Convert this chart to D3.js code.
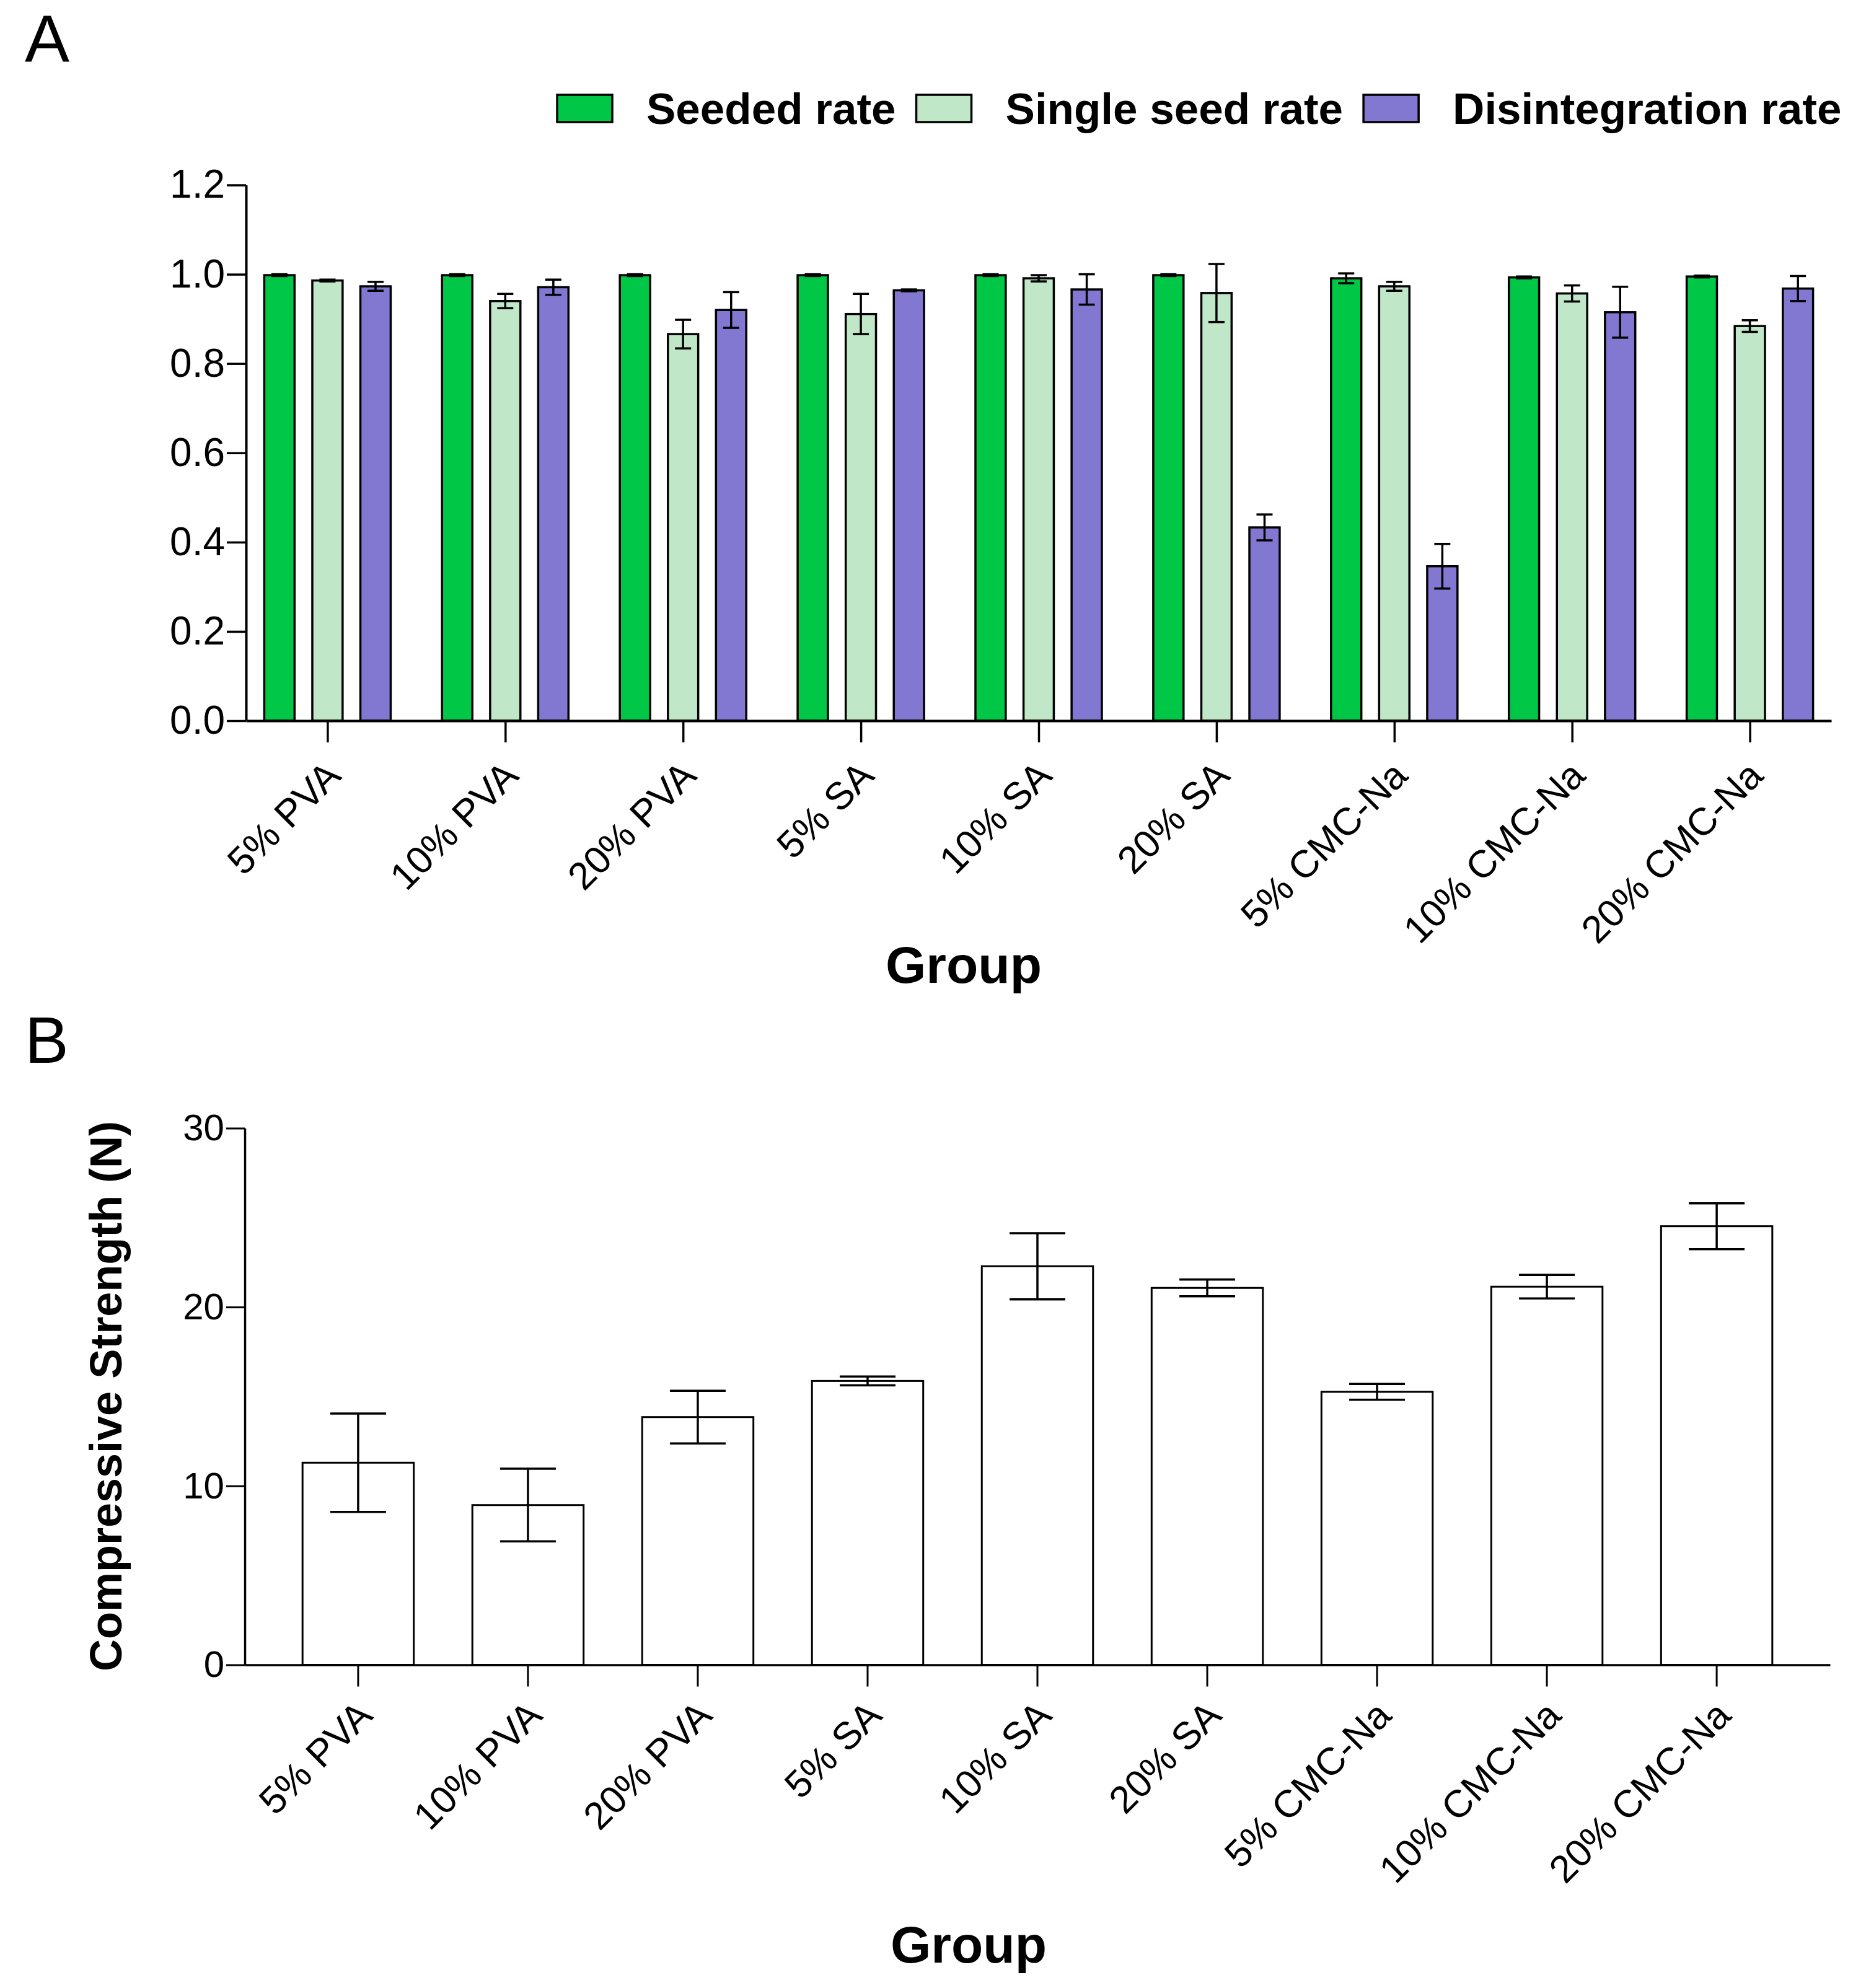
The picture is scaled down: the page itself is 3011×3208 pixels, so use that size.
<!DOCTYPE html>
<meta charset="utf-8">
<script src="https://d3js.org/d3.v7.min.js"></script>
<style>
  body { margin: 0; background: #fff; }
  text { font-family: "Liberation Sans", Arial, sans-serif; fill: #000; }
</style>
<div id="chart"></div>
<script>

// groups on the x axis (same for both panels)
var groups = ["5% PVA", "10% PVA", "20% PVA", "5% SA", "10% SA", "20% SA",
              "5% CMC-Na", "10% CMC-Na", "20% CMC-Na"];

// panel A: three rates per group (mean and error)
var seriesNames = ["Seeded rate", "Single seed rate", "Disintegration rate"];
var seriesColors = ["#00c846", "#c0e8c8", "#8278d2"];
var seededRate = [0.998, 0.998, 0.998, 0.998, 0.998, 0.998, 0.991, 0.993, 0.995];
var seededErr = [0.002, 0.002, 0.002, 0.002, 0.002, 0.002, 0.011, 0.002, 0.002];
var singleSeedRate = [0.986, 0.940, 0.866, 0.911, 0.991, 0.958, 0.973, 0.957, 0.884];
var singleSeedErr = [0.002, 0.016, 0.032, 0.045, 0.007, 0.065, 0.010, 0.018, 0.013];
var disintRate = [0.973, 0.971, 0.920, 0.964, 0.966, 0.433, 0.346, 0.915, 0.968];
var disintErr = [0.010, 0.017, 0.040, 0.002, 0.034, 0.029, 0.050, 0.057, 0.028];
var yTicksA = [0, 0.2, 0.4, 0.6, 0.8, 1.0, 1.2];

// panel B: compressive strength (N)
var strength = [11.3, 8.93, 13.85, 15.87, 22.28, 21.07, 15.26, 21.14, 24.52];
var strengthErr = [2.75, 2.03, 1.47, 0.25, 1.85, 0.47, 0.44, 0.66, 1.28];
var yTicksB = [0, 10, 20, 30];

var W = 3011, H = 3208;
var svg = d3.select("#chart").append("svg")
    .attr("width", W).attr("height", H);
svg.append("rect").attr("width", W).attr("height", H).attr("fill", "#fff");

// ---------- panel A ----------
var rates = [seededRate, singleSeedRate, disintRate];
var errs = [seededErr, singleSeedErr, disintErr];
var dataA = [];
groups.forEach(function(g, i) {
  seriesNames.forEach(function(s, j) {
    dataA.push({group: g, series: s, value: rates[j][i], err: errs[j][i], color: seriesColors[j]});
  });
});

var xA = d3.scalePoint().domain(groups).range([397, 2955]).padding(0.458);
var xA1 = d3.scaleBand().domain(seriesNames).range([-102, 102]).paddingInner(0.37);
var yA = d3.scaleLinear().domain([0, 1.2]).range([1163, 298.5]);

var gA = svg.append("g");

gA.selectAll("rect.bar")
  .data(dataA)
  .enter().append("rect")
    .attr("class", "bar")
    .attr("x", function(d) { return xA(d.group) + xA1(d.series); })
    .attr("width", xA1.bandwidth())
    .attr("y", function(d) { return yA(d.value); })
    .attr("height", function(d) { return yA(0) - yA(d.value); })
    .attr("fill", function(d) { return d.color; })
    .attr("stroke", "#000")
    .attr("stroke-width", 3.5);

// error bars
var capA = 13;
var errA = gA.selectAll("g.err").data(dataA).enter().append("g")
    .attr("class", "err")
    .attr("stroke", "#000").attr("stroke-width", 3.5);
errA.append("line")
    .attr("x1", function(d) { return xA(d.group) + xA1(d.series) + xA1.bandwidth() / 2; })
    .attr("x2", function(d) { return xA(d.group) + xA1(d.series) + xA1.bandwidth() / 2; })
    .attr("y1", function(d) { return yA(d.value + d.err); })
    .attr("y2", function(d) { return yA(d.value - d.err); });
[1, -1].forEach(function(sign) {
  errA.append("line")
    .attr("x1", function(d) { return xA(d.group) + xA1(d.series) + xA1.bandwidth() / 2 - capA; })
    .attr("x2", function(d) { return xA(d.group) + xA1(d.series) + xA1.bandwidth() / 2 + capA; })
    .attr("y1", function(d) { return yA(d.value + sign * d.err); })
    .attr("y2", function(d) { return yA(d.value + sign * d.err); });
});

// axes
var yAxisA = gA.append("g")
    .attr("transform", "translate(397,0)")
    .call(d3.axisLeft(yA).tickValues(yTicksA).tickFormat(d3.format(".1f"))
          .tickSize(31).tickSizeOuter(0).tickPadding(3));
yAxisA.selectAll("text").style("font-size", "64px");

var xAxisA = gA.append("g")
    .attr("transform", "translate(0,1163)")
    .call(d3.axisBottom(xA).tickSize(35).tickSizeOuter(0));
xAxisA.selectAll("text")
    .attr("x", 0).attr("y", 0).attr("dy", 0)
    .attr("transform", "translate(24,92) rotate(-45)")
    .style("text-anchor", "end")
    .style("font-size", "62px");

[yAxisA, xAxisA].forEach(function(ax) {
  ax.select(".domain").attr("stroke-width", 4);
  ax.selectAll(".tick line").attr("stroke-width", 3.5);
});

gA.append("text")
    .attr("x", 1555).attr("y", 1586)
    .attr("text-anchor", "middle")
    .style("font-size", "84px").style("font-weight", "bold")
    .text("Group");

// legend
var legX = 899;
var leg = gA.append("g");
seriesNames.forEach(function(s, j) {
  leg.append("rect")
    .attr("x", legX).attr("y", 153)
    .attr("width", 89).attr("height", 44)
    .attr("fill", seriesColors[j])
    .attr("stroke", "#000").attr("stroke-width", 3.5);
  var t = leg.append("text")
    .attr("x", legX + 144).attr("y", 200)
    .style("font-size", "71px").style("font-weight", "bold")
    .text(s);
  legX = legX + 144 + t.node().getComputedTextLength() + 33;
});

svg.append("text")
    .attr("x", 40).attr("y", 100)
    .style("font-size", "108px")
    .text("A");

// ---------- panel B ----------
var xB = d3.scaleBand().domain(groups).range([395, 2953]).paddingInner(0.345).paddingOuter(0.34);
var yB = d3.scaleLinear().domain([0, 30]).range([2686.5, 1820.5]);
var dataB = groups.map(function(g, i) { return {group: g, value: strength[i], err: strengthErr[i]}; });

var gB = svg.append("g");

gB.selectAll("rect.bar")
  .data(dataB)
  .enter().append("rect")
    .attr("class", "bar")
    .attr("x", function(d) { return xB(d.group); })
    .attr("width", xB.bandwidth())
    .attr("y", function(d) { return yB(d.value); })
    .attr("height", function(d) { return yB(0) - yB(d.value); })
    .attr("fill", "#fff")
    .attr("stroke", "#000")
    .attr("stroke-width", 3);

var capB = 45;
var errB = gB.selectAll("g.err").data(dataB).enter().append("g")
    .attr("class", "err")
    .attr("stroke", "#000").attr("stroke-width", 3.5);
errB.append("line")
    .attr("x1", function(d) { return xB(d.group) + xB.bandwidth() / 2; })
    .attr("x2", function(d) { return xB(d.group) + xB.bandwidth() / 2; })
    .attr("y1", function(d) { return yB(d.value + d.err); })
    .attr("y2", function(d) { return yB(d.value - d.err); });
[1, -1].forEach(function(sign) {
  errB.append("line")
    .attr("x1", function(d) { return xB(d.group) + xB.bandwidth() / 2 - capB; })
    .attr("x2", function(d) { return xB(d.group) + xB.bandwidth() / 2 + capB; })
    .attr("y1", function(d) { return yB(d.value + sign * d.err); })
    .attr("y2", function(d) { return yB(d.value + sign * d.err); });
});

var yAxisB = gB.append("g")
    .attr("transform", "translate(395,0)")
    .call(d3.axisLeft(yB).tickValues(yTicksB).tickSize(30).tickSizeOuter(0).tickPadding(3));
yAxisB.selectAll("text").style("font-size", "60px");

var xAxisB = gB.append("g")
    .attr("transform", "translate(0,2686.5)")
    .call(d3.axisBottom(xB).tickSize(35).tickSizeOuter(0));
xAxisB.selectAll("text")
    .attr("x", 0).attr("y", 0).attr("dy", 0)
    .attr("transform", "translate(26,85) rotate(-45)")
    .style("text-anchor", "end")
    .style("font-size", "62px");

[yAxisB, xAxisB].forEach(function(ax) {
  ax.select(".domain").attr("stroke-width", 3.5);
  ax.selectAll(".tick line").attr("stroke-width", 3);
});

gB.append("text")
    .attr("transform", "translate(196,2253) rotate(-90)")
    .attr("text-anchor", "middle")
    .style("font-size", "72px").style("font-weight", "bold")
    .text("Compressive Strength (N)");

gB.append("text")
    .attr("x", 1563).attr("y", 3167)
    .attr("text-anchor", "middle")
    .style("font-size", "84px").style("font-weight", "bold")
    .text("Group");

svg.append("text")
    .attr("x", 40).attr("y", 1715)
    .style("font-size", "106px")
    .text("B");

</script>
